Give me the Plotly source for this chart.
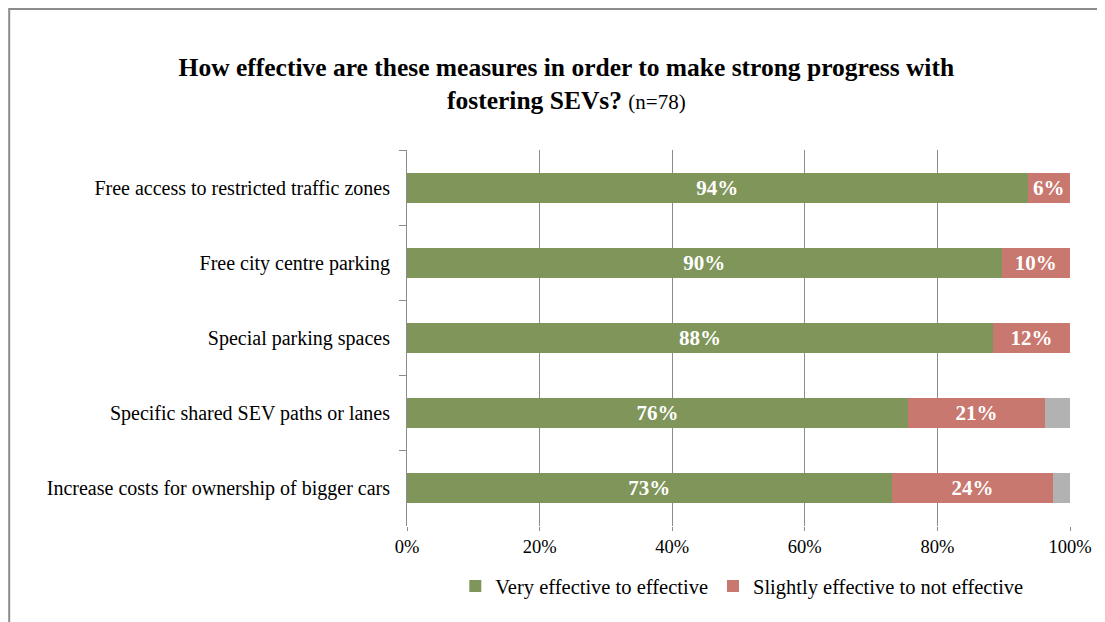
import plotly.graph_objects as go

# survey measures, top to bottom as shown
measures = [
    "Free access to restricted traffic zones",
    "Free city centre parking",
    "Special parking spaces",
    "Specific shared SEV paths or lanes",
    "Increase costs for ownership of bigger cars",
]
very_effective = [93.6, 89.7, 88.4, 75.6, 73.1]
slightly_effective = [6.4, 10.3, 11.6, 20.6, 24.4]
no_answer = [0.0, 0.0, 0.0, 3.8, 2.5]

x_ticks = [0, 20, 40, 60, 80, 100]
x_tick_labels = ["0%", "20%", "40%", "60%", "80%", "100%"]

FONT = "Liberation Serif, Times New Roman, serif"
GREEN = "#7f955a"
RED = "#c8786e"
GREY = "#b2b2b2"

fig = go.Figure()

fig.add_trace(go.Bar(
    y=measures, x=very_effective, orientation="h",
    name="Very effective to effective",
    marker=dict(color=GREEN, line=dict(width=0)),
    texttemplate="<b>%{x:.0f}%</b>", textposition="inside",
    insidetextanchor="middle", textangle=0,
    textfont=dict(family=FONT, size=21, color="white"),
))
fig.add_trace(go.Bar(
    y=measures, x=slightly_effective, orientation="h",
    name="Slightly effective to not effective",
    marker=dict(color=RED, line=dict(width=0)),
    texttemplate="<b>%{x:.0f}%</b>", textposition="inside",
    insidetextanchor="middle", textangle=0,
    textfont=dict(family=FONT, size=21, color="white"),
))
fig.add_trace(go.Bar(
    y=measures, x=no_answer, orientation="h",
    name="No answer", showlegend=False,
    marker=dict(color=GREY, line=dict(width=0)),
))

# outer frame (top and left edge visible in the original)
fig.add_shape(
    type="path", xref="paper", yref="paper",
    path="M -0.6 -0.3 L -0.6 1.375 L 1.06 1.375",
    line=dict(color="#8c8c8c", width=2),
)

fig.update_layout(
    width=1097, height=614,
    barmode="stack", bargap=0.6,
    plot_bgcolor="white", paper_bgcolor="white",
    margin=dict(l=399, r=35, t=142, b=96),
    font=dict(family=FONT, size=20, color="black"),
    title=dict(
        text="<b>How effective are these measures in order to make strong progress with</b><br>"
             "<b>fostering SEVs?</b> <span style='font-size:21px'>(n=78)</span>",
        x=0.509, xanchor="center", y=0.889, yanchor="top",
        font=dict(family=FONT, size=25.5, color="black"),
    ),
    legend=dict(
        orientation="h", x=0.505, xanchor="center", y=-0.16, yanchor="middle",
        font=dict(family=FONT, size=20.5), traceorder="normal",
        itemwidth=30,
    ),
    xaxis=dict(
        range=[0, 100], tickvals=x_ticks, ticktext=x_tick_labels,
        showgrid=True, gridcolor="#8c8c8c", gridwidth=1,
        zeroline=False, showline=False,
        ticks="outside", ticklen=4, tickcolor="#8c8c8c",
        tickfont=dict(family=FONT, size=18.5),
    ),
    yaxis=dict(
        categoryorder="array", categoryarray=measures, autorange="reversed",
        showline=True, linecolor="#8c8c8c", linewidth=1,
        ticks="outside", ticklen=7, tickcolor="#8c8c8c", tickson="boundaries",
        ticklabelstandoff=12, showgrid=False,
        tickfont=dict(family=FONT, size=20),
    ),
)

fig.write_html("out.html")
